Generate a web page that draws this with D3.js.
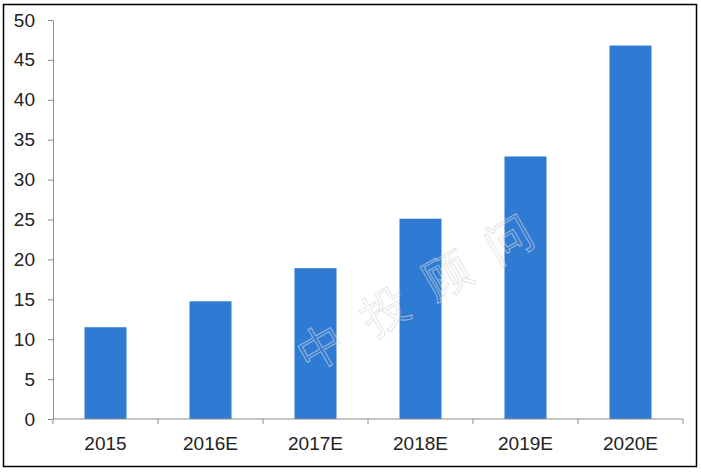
<!DOCTYPE html>
<html>
<head>
<meta charset="utf-8">
<script src="https://d3js.org/d3.v7.min.js"></script>
<style>
  body { margin: 0; background: #fff; }
  text { font-family: "Liberation Sans", Arial, sans-serif; }
</style>
</head>
<body>
<svg id="chart" width="701" height="473"></svg>
<script>
// data
var years = ["2015", "2016E", "2017E", "2018E", "2019E", "2020E"];
var values = [11.5, 14.75, 18.9, 25.1, 32.9, 46.8];
var yTicks = [0, 5, 10, 15, 20, 25, 30, 35, 40, 45, 50];

var svg = d3.select("#chart");
var mLeft = 53, mRight = 683, mTop = 20, mBottom = 419;

// frame
svg.append("rect")
  .attr("x", 3.5).attr("y", 4.5)
  .attr("width", 693).attr("height", 462)
  .attr("fill", "none").attr("stroke", "#000").attr("stroke-width", 1.5);

var x = d3.scaleBand().domain(years).range([mLeft, mRight]).paddingInner(0.6).paddingOuter(0.3);
var y = d3.scaleLinear().domain([0, 50]).range([mBottom, mTop]);

// bars
svg.selectAll("rect.bar")
  .data(values)
  .enter()
  .append("rect")
  .attr("class", "bar")
  .attr("x", function(d, i){ return x(years[i]); })
  .attr("width", x.bandwidth())
  .attr("y", function(d){ return y(d); })
  .attr("height", function(d){ return y(0) - y(d); })
  .attr("fill", "#2f7bd4");

// watermark, drawn over the bars
svg.append("text")
  .attr("transform", "translate(435,300) rotate(-30)")
  .attr("text-anchor", "middle")
  .attr("font-family", "Noto Sans CJK SC")
  .attr("font-size", 46)
  .attr("fill", "none")
  .attr("stroke", "#d8d8d8")
  .attr("stroke-opacity", 0.6)
  .attr("stroke-width", 1.1)
  .attr("letter-spacing", 26)
  .text("中投顾问");

// y axis
var ya = svg.append("g")
  .attr("transform", "translate(" + mLeft + ",0)")
  .call(d3.axisLeft(y).tickValues(yTicks).tickSize(5).tickSizeOuter(0).tickPadding(13));
ya.select(".domain").attr("stroke", "#8c8c8c");
ya.selectAll(".tick line").attr("stroke", "#8c8c8c");
ya.selectAll(".tick text").attr("font-size", 19).attr("fill", "#222")
  .attr("font-family", "Liberation Sans, Arial, sans-serif");

// x axis with ticks at category boundaries
var xa = svg.append("g").attr("transform", "translate(0," + mBottom + ")");
xa.append("line").attr("x1", mLeft).attr("x2", mRight).attr("stroke", "#8c8c8c");
var bounds = d3.range(years.length + 1).map(function(i){ return mLeft + i * x.step(); });
xa.selectAll("line.tk")
  .data(bounds)
  .enter()
  .append("line")
  .attr("class", "tk")
  .attr("x1", function(d){ return d; }).attr("x2", function(d){ return d; })
  .attr("y1", 0).attr("y2", 5)
  .attr("stroke", "#8c8c8c");
xa.selectAll("text")
  .data(years)
  .enter()
  .append("text")
  .attr("x", function(d){ return x(d) + x.bandwidth() / 2; })
  .attr("y", 31)
  .attr("text-anchor", "middle")
  .attr("font-size", 19)
  .attr("fill", "#222")
  .text(function(d){ return d; });
</script>
</body>
</html>
